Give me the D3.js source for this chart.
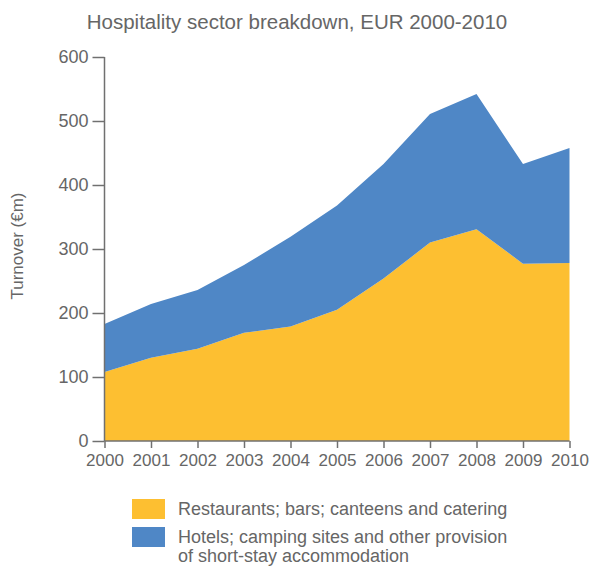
<!DOCTYPE html>
<html>
<head>
<meta charset="utf-8">
<script src="https://cdn.jsdelivr.net/npm/d3@7"></script>
<style>
  html, body { margin: 0; padding: 0; background: #fff; }
  svg { display: block; }
  text { font-family: "Liberation Sans", Arial, sans-serif; fill: #666; }
</style>
</head>
<body>
<svg id="chart" width="590" height="566"></svg>
<script>
const years = [2000, 2001, 2002, 2003, 2004, 2005, 2006, 2007, 2008, 2009, 2010];
const restaurants = [108, 130, 144, 169, 179, 205, 254, 310, 331, 277, 278];
const hotels = [75, 84, 92, 106, 140, 163, 179, 201, 211, 156, 180];
const yTicks = [0, 100, 200, 300, 400, 500, 600];
const seriesNames = ["Restaurants; bars; canteens and catering", "Hotels; camping sites and other provision|of short-stay accommodation"];
const seriesColors = ["#fdbf31", "#4f87c6"];
const titleText = "Hospitality sector breakdown, EUR 2000-2010";
const yLabel = "Turnover (€m)";

const svg = d3.select("#chart");
const x = d3.scaleLinear().domain([2000, 2010]).range([104.5, 569.5]);
const y = d3.scaleLinear().domain([0, 600]).range([441, 57]);

const rows = years.map((yr, i) => ({ year: yr, r: restaurants[i], h: hotels[i] }));
const stack = d3.stack().keys(["r", "h"]);
const layers = stack(rows);

const area = d3.area()
  .x(d => x(d.data.year))
  .y0(d => y(d[0]))
  .y1(d => y(d[1]));

svg.append("g").selectAll("path")
  .data(layers)
  .join("path")
  .attr("d", area)
  .attr("fill", (d, i) => seriesColors[i]);

// Y axis
const yAxis = d3.axisLeft(y).tickValues(yTicks).tickSize(12).tickPadding(4).tickFormat(d3.format("d"));
const gy = svg.append("g").attr("transform", "translate(104.5,0)").call(yAxis);
gy.select(".domain").attr("stroke", "#707070").attr("stroke-width", 1.5).attr("d", "M0,57V441");
gy.selectAll(".tick line").attr("stroke", "#707070").attr("stroke-width", 1.5);
gy.selectAll(".tick text").style("font-family", "Liberation Sans, Arial, sans-serif").style("font-size", "18px").attr("fill", "#666");

// X axis
const xAxis = d3.axisBottom(x).tickValues(years).tickSize(7).tickPadding(6).tickFormat(d3.format("d"));
const gx = svg.append("g").attr("transform", "translate(0,441)").call(xAxis);
gx.select(".domain").attr("stroke", "#707070").attr("stroke-width", 1.5).attr("d", "M104.5,0H569.5");
gx.selectAll(".tick line").attr("stroke", "#707070").attr("stroke-width", 1.5);
gx.selectAll(".tick text").style("font-family", "Liberation Sans, Arial, sans-serif").style("font-size", "17px").attr("fill", "#666");

// Title
svg.append("text").attr("x", 297).attr("y", 29).attr("text-anchor", "middle")
  .style("font-size", "20.5px").text(titleText);

// Y label
svg.append("text").attr("transform", "translate(23,246) rotate(-90)").attr("text-anchor", "middle")
  .style("font-size", "17px").text(yLabel);

// Legend
const lg = svg.append("g");
seriesNames.forEach((name, i) => {
  const top = 499 + i * 28;
  lg.append("rect").attr("x", 132).attr("y", top).attr("width", 33).attr("height", 20).attr("fill", seriesColors[i]);
  const lines = name.split("|");
  lines.forEach((ln, j) => {
    lg.append("text").attr("x", 178).attr("y", top + 16 + j * 19).style("font-size", "18px").text(ln);
  });
});
</script>
</body>
</html>
